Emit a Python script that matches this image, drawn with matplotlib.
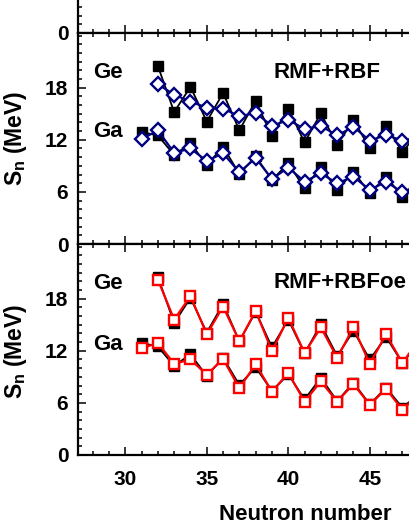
import matplotlib
matplotlib.use("Agg")
import matplotlib.pyplot as plt
from matplotlib.ticker import MultipleLocator

plt.rcParams['font.family'] = ['Liberation Sans', 'DejaVu Sans']
plt.rcParams['font.weight'] = 'bold'
plt.rcParams['mathtext.fontset'] = 'custom'
plt.rcParams['mathtext.bf'] = 'Liberation Sans:bold'
plt.rcParams['mathtext.rm'] = 'Liberation Sans:bold'

# ---------------- data ----------------
N_ge = [32, 33, 34, 35, 36, 37, 38, 39, 40, 41, 42, 43, 44, 45, 46, 47, 48]
N_ga = [31, 32, 33, 34, 35, 36, 37, 38, 39, 40, 41, 42, 43, 44, 45, 46, 47, 48]

ge_exp = [20.5, 15.2, 18.1, 14.1, 17.4, 13.1, 16.5, 12.4, 15.6, 11.7, 15.05, 11.4, 14.3, 11.0, 13.6, 10.6, 12.9]
ga_exp = [12.9, 12.5, 10.25, 11.6, 9.1, 11.2, 8.06, 10.1, 7.37, 9.3, 6.4, 8.9, 6.2, 8.33, 5.84, 7.76, 5.45, 7.0]

ge_rbf = [18.4, 17.2, 16.4, 15.7, 15.6, 14.7, 15.1, 13.6, 14.3, 13.25, 13.6, 12.5, 13.5, 11.9, 12.56, 11.9, 12.3]
ga_rbf = [12.06, 13.1, 10.5, 11.0, 9.56, 10.45, 8.26, 9.9, 7.49, 8.8, 7.18, 8.14, 6.99, 7.76, 6.22, 7.18, 5.95, 6.8]

ge_rbfoe = [20.2, 15.6, 18.3, 13.9, 17.1, 13.1, 16.6, 11.95, 15.8, 11.76, 14.7, 11.2, 14.7, 10.5, 13.9, 10.6, 13.2]
ga_rbfoe = [12.3, 12.9, 10.5, 11.0, 9.25, 11.06, 7.7, 10.45, 7.3, 9.44, 6.16, 8.47, 6.16, 8.17, 5.78, 7.63, 5.2, 7.0]

x_ticks = [30, 35, 40, 45]
y_ticks = [0, 6, 12, 18]

# ---------------- layout ----------------
W, H = 409, 529
fig = plt.figure(figsize=(W / 100, H / 100), dpi=100)

x0, x1 = 27.1, 50.0
px_per_n = 16.3
left = 78 / W
width = (x1 - x0) * px_per_n / W
ph = 211 / H
b_bot = (H - 455) / H
b_mid = b_bot + ph
b_top = b_mid + ph

navy = '#000080'
red = '#ff0000'


def style(ax, show_xlabels=False, only_zero=False):
    ax.set_xlim(x0, x1)
    ax.set_ylim(0, 24.3)
    ax.xaxis.set_major_locator(MultipleLocator(5))
    ax.xaxis.set_minor_locator(MultipleLocator(1))
    ax.set_yticks(y_ticks)
    if only_zero:
        ax.set_yticklabels(['0'] + [''] * (len(y_ticks) - 1))
    ax.yaxis.set_minor_locator(MultipleLocator(1))
    ax.tick_params(which='both', direction='in', top=True, right=True, width=1.1)
    ax.tick_params(which='major', length=6)
    ax.tick_params(which='minor', length=3)
    ax.tick_params(axis='y', labelsize=15, pad=7)
    ax.tick_params(axis='x', labelsize=15, pad=11)
    if show_xlabels:
        ax.set_xticks(x_ticks)
    else:
        ax.tick_params(axis='x', labelbottom=False)
    for s in ax.spines.values():
        s.set_linewidth(1.6)


ax_top = fig.add_axes([left, b_top, width, ph])
ax_mid = fig.add_axes([left, b_mid, width, ph])
ax_bot = fig.add_axes([left, b_bot, width, ph])
style(ax_top, only_zero=True)
style(ax_mid)
style(ax_bot, show_xlabels=True)

for ax, model_ge, model_ga, color, marker, ms in [
    (ax_mid, ge_rbf, ga_rbf, navy, 'D', 6.8),
    (ax_bot, ge_rbfoe, ga_rbfoe, red, 's', 6.8),
]:
    for Nx, ex in [(N_ge, ge_exp), (N_ga, ga_exp)]:
        ax.plot(Nx, ex, color='black', lw=1.3, marker='s', ms=7.4,
                mfc='black', mec='black', zorder=2)
    for Nx, mv in [(N_ge, model_ge), (N_ga, model_ga)]:
        ax.plot(Nx, mv, color=color, lw=1.6, marker=marker, ms=ms,
                mfc='white', mec=color, mew=1.7, zorder=3)

txt = dict(fontsize=16, fontweight='bold', ha='center', va='center')
ax_mid.text(28.94, 19.8, 'Ge', **txt)
ax_mid.text(28.94, 12.9, 'Ga', **txt)
ax_mid.text(42.37, 19.7, 'RMF+RBF', **txt)
ax_bot.text(28.94, 19.7, 'Ge', **txt)
ax_bot.text(28.94, 12.7, 'Ga', **txt)
ax_bot.text(43.17, 19.9, 'RMF+RBFoe', **txt)

ylab = r'S$_\mathbf{n}$ (MeV)'
fig.text(16 / W, (H - 138) / H, ylab, rotation=90, fontsize=16.5,
         fontweight='bold', ha='center', va='center')
fig.text(16 / W, (H - 351) / H, ylab, rotation=90, fontsize=16.5,
         fontweight='bold', ha='center', va='center')
fig.text(305 / W, (H - 514) / H, 'Neutron number', fontsize=16,
         fontweight='bold', ha='center', va='center')

fig.savefig('out.png', dpi=100)
